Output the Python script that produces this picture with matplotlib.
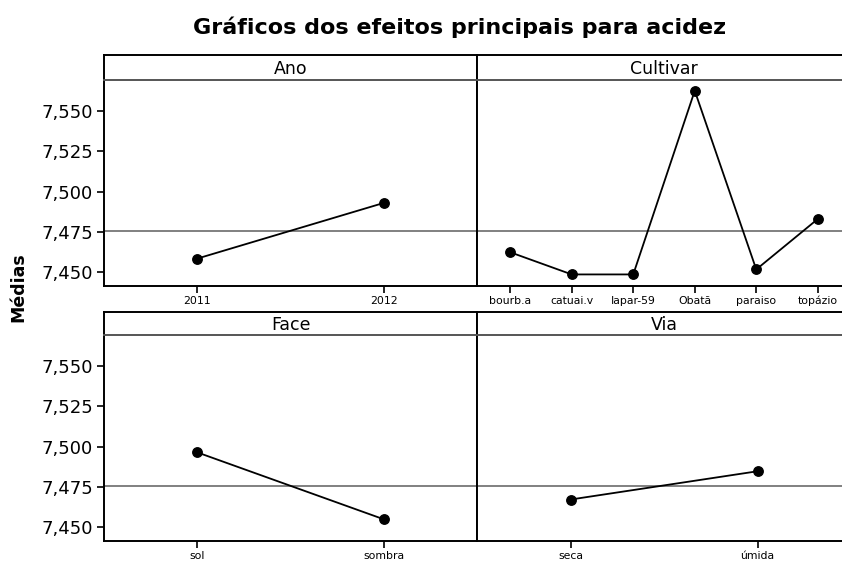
import matplotlib
matplotlib.use("Agg")
import matplotlib.pyplot as plt
from matplotlib.ticker import FixedLocator, FuncFormatter

# médias por nível de cada fator (acidez)
ANO = ["2011", "2012"]
ANO_MED = [7.4583, 7.4929]
CULTIVAR = ["bourb.a", "catuai.v", "Iapar-59", "Obatã", "paraiso", "topázio"]
CULTIVAR_MED = [7.4622, 7.4484, 7.4484, 7.5627, 7.4515, 7.4829]
FACE = ["sol", "sombra"]
FACE_MED = [7.4963, 7.4547]
VIA = ["seca", "úmida"]
VIA_MED = [7.4670, 7.4846]
MEDIA_GERAL = 7.4757
Y_TICKS = [7.450, 7.475, 7.500, 7.525, 7.550]

PAINEIS = [("Ano", ANO, ANO_MED), ("Cultivar", CULTIVAR, CULTIVAR_MED),
           ("Face", FACE, FACE_MED), ("Via", VIA, VIA_MED)]

plt.rcParams["font.family"] = "DejaVu Sans"
W, H = 842, 569
fig = plt.figure(figsize=(W / 100, H / 100), dpi=100)
fig.patch.set_facecolor("white")

# caixas em pixels: (x0, x1) das colunas e (topo da faixa, base da faixa, base do gráfico) das linhas
COLS = [(104.3, 477.0), (477.0, 851.0)]
ROWS = [(54.7, 80.3, 286.0), (311.7, 335.3, 541.0)]
YLIM = (7.4412, 7.5692)


def fx(px):
    return px / W


def fy(py):
    return 1 - py / H


fmt = FuncFormatter(lambda v, p: f"{v:.3f}".replace(".", ","))

for i, (nome, niveis, medias) in enumerate(PAINEIS):
    r, c = divmod(i, 2)
    x0, x1 = COLS[c]
    t, sb, b = ROWS[r]
    ax = fig.add_axes([fx(x0), fy(b), fx(x1 - x0), fy(sb) - fy(b)])
    st = fig.add_axes([fx(x0), fy(sb), fx(x1 - x0), fy(t) - fy(sb)])
    st.set_xticks([]); st.set_yticks([])
    for s in st.spines.values():
        s.set_linewidth(1.4)
    st.spines["bottom"].set_color("#555555")
    st.text(0.5, 0.45, nome, ha="center", va="center", fontsize=12.5,
            transform=st.transAxes)

    pos = list(range(len(niveis)))
    ax.axhline(MEDIA_GERAL, color="#808080", lw=1.4, zorder=1)
    ax.plot(pos, medias, "-", color="black", lw=1.3, zorder=2)
    ax.plot(pos, medias, "o", color="black", ms=6.8, zorder=3)
    if len(niveis) == 2:
        ax.set_xlim(-0.5, 1.5)
    else:
        ax.set_xlim(-0.54, len(niveis) - 0.46)
    ax.set_ylim(*YLIM)
    ax.xaxis.set_major_locator(FixedLocator(pos))
    ax.set_xticklabels(niveis, fontsize=7.8)
    ax.tick_params(axis="x", direction="out", length=5, width=1.2, pad=2)
    ax.yaxis.set_major_locator(FixedLocator(Y_TICKS))
    if c == 0:
        ax.yaxis.set_major_formatter(fmt)
        ax.tick_params(axis="y", direction="out", length=5, width=1.2,
                       labelsize=13, pad=3)
    else:
        ax.tick_params(axis="y", left=False, labelleft=False)
    for s in ax.spines.values():
        s.set_linewidth(1.4)
    ax.spines["top"].set_visible(False)

fig.text(fx(460), fy(27), "Gráficos dos efeitos principais para acidez",
         ha="center", va="center", fontsize=16, fontweight="bold")
fig.text(fx(18), fy(287), "Médias", ha="center", va="center", rotation=90,
         fontsize=12.5, fontweight="bold")

fig.savefig("out.png", dpi=100, facecolor="white")
